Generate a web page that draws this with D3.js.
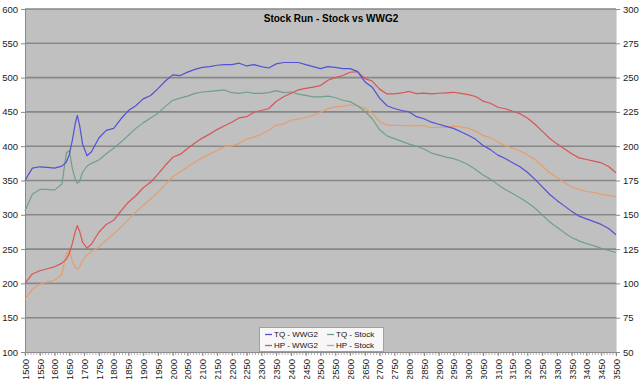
<!DOCTYPE html>
<html>
<head>
<meta charset="utf-8">
<script src="https://cdn.jsdelivr.net/npm/d3@7"></script>
<style>
  html, body { margin: 0; padding: 0; background: #ffffff; }
  svg { display: block; font-family: Arial, "Liberation Sans", sans-serif; }
</style>
</head>
<body>
<svg id="chart" width="640" height="379"></svg>
<script>
// ---- Data ----
const title = "Stock Run - Stock vs WWG2";
const rpm = [1500,1525,1550,1575,1600,1625,1640,1650,1660,1670,1677,1685,1695,1710,1725,1750,1775,1800,1825,1850,1875,1900,1925,1950,1975,2000,2025,2050,2075,2100,2125,2150,2175,2200,2225,2250,2275,2300,2325,2350,2375,2400,2425,2450,2475,2500,2525,2550,2575,2600,2625,2650,2675,2700,2725,2750,2775,2800,2825,2850,2875,2900,2925,2950,2975,3000,3025,3050,3075,3100,3125,3150,3175,3200,3225,3250,3275,3300,3325,3350,3375,3400,3425,3450,3475,3500];
const tqWWG2 = [350,368,370,369,368,371,377,388,408,433,445,430,403,386,392,412,423,426,440,452,459,469,474,484,495,504,503,508,512,515,516,518,519,519,521,517,519,516,514,520,522,522,522,519,516,513,516,515,513,513,509,494,486,470,459,455,452,450,443,440,435,432,429,426,421,416,410,401,395,387,382,376,370,362,352,341,330,321,313,305,298,294,290,286,280,271];
const tqStock = [306,330,337,337,336,345,390,394,368,352,346,349,362,371,375,380,389,397,406,416,426,434,441,448,458,467,470,473,477,479,480,481,482,478,477,479,477,477,478,481,478,479,476,474,472,472,473,471,467,465,459,451,440,424,415,411,407,403,400,396,390,387,384,382,378,373,366,358,352,344,337,331,325,318,310,300,290,282,274,267,262,258,255,251,248,245];
const hpWWG2 = [100.0,106.9,109.2,110.7,112.1,114.8,117.7,121.9,129.0,137.7,142.1,137.9,130.0,125.7,128.7,137.3,143.0,146.0,152.9,159.2,163.9,169.7,173.7,179.7,186.1,191.9,194.0,198.3,202.3,205.9,208.8,212.1,214.9,217.4,220.7,221.5,224.8,226.0,227.5,232.6,236.1,238.6,241.0,242.1,243.1,244.2,248.1,250.0,251.5,253.9,254.4,249.3,247.5,241.6,238.1,238.2,238.8,239.9,238.3,238.7,238.1,238.6,238.9,239.3,238.5,237.6,236.2,232.9,231.3,228.4,227.3,225.5,223.7,220.6,216.2,211.0,205.8,201.7,198.2,194.5,191.5,190.3,189.1,187.9,185.2,180.6];
const hpStock = [88.5,95.8,99.4,101.1,102.3,106.7,121.8,123.8,116.3,111.9,110.5,112.0,116.8,120.8,123.2,126.6,131.5,136.1,141.1,146.5,152.1,157.0,161.6,166.3,172.2,177.8,181.2,184.6,188.5,191.5,194.2,196.9,199.6,200.2,202.1,205.2,206.6,208.9,211.6,215.2,216.2,218.9,219.8,221.1,222.4,224.7,227.4,228.7,229.0,230.2,229.4,227.6,224.1,218.0,215.3,215.2,215.1,214.8,215.2,214.9,213.5,213.7,213.8,214.6,214.1,213.1,210.8,207.9,206.1,203.1,200.5,198.5,196.5,193.8,190.4,185.6,180.8,177.2,173.5,170.3,168.4,167.0,166.3,164.9,164.1,163.3];
const leftTicks = [100,150,200,250,300,350,400,450,500,550,600];
const rightTicks = [50,75,100,125,150,175,200,225,250,275,300];
const xTicks = d3.range(1500, 3501, 50);
const seriesNames = ["TQ - WWG2", "HP - WWG2", "TQ - Stock", "HP - Stock"];
const seriesColors = ["#5252d4", "#d85555", "#70a088", "#e69d6c"];

// ---- Layout ----
const svg = d3.select("#chart");
const L = 25, R = 616, T = 9, B = 352;

const x = d3.scaleLinear().domain([1500, 3500]).range([L, R]);
const yL = d3.scaleLinear().domain([100, 600]).range([B, T]);
const yR = d3.scaleLinear().domain([50, 300]).range([B, T]);

// plot background
svg.append("rect").attr("x", L).attr("y", T).attr("width", R - L).attr("height", B - T)
  .attr("fill", "#c0c0c0");

// gridlines
svg.append("g").selectAll("line").data(leftTicks.filter(d => d > 100)).join("line")
  .attr("x1", L).attr("x2", R)
  .attr("y1", d => yL(d)).attr("y2", d => yL(d))
  .attr("stroke", "#878787").attr("stroke-width", 1.6);

// left axis
const gL = svg.append("g").attr("transform", `translate(${L},0)`)
  .call(d3.axisLeft(yL).tickValues(leftTicks).tickSize(4).tickPadding(3));
gL.select(".domain").attr("stroke", "#8a8a8a");
gL.selectAll(".tick line").attr("stroke", "#8a8a8a");
gL.selectAll("text").attr("font-size", 9.5).attr("fill", "#222").attr("font-family", "Arial, 'Liberation Sans', sans-serif");

// right axis
const gR = svg.append("g").attr("transform", `translate(${R},0)`)
  .call(d3.axisRight(yR).tickValues(rightTicks).tickSize(4).tickPadding(3));
gR.select(".domain").attr("stroke", "#dcdcdc");
gR.selectAll(".tick line").attr("stroke", "#8a8a8a");
gR.selectAll("text").attr("font-size", 9.5).attr("fill", "#222").attr("font-family", "Arial, 'Liberation Sans', sans-serif");

// bottom axis: minor ticks
svg.append("g").selectAll("line").data(d3.range(1500, 3501, 10)).join("line")
  .attr("x1", d => x(d)).attr("x2", d => x(d))
  .attr("y1", B).attr("y2", B + 3)
  .attr("stroke", "#9a9a9a").attr("stroke-width", 0.8);

const gB = svg.append("g").attr("transform", `translate(0,${B})`)
  .call(d3.axisBottom(x).tickValues(xTicks).tickSize(4).tickFormat(d3.format("d")));
gB.select(".domain").attr("stroke", "#8a8a8a");
gB.selectAll(".tick line").attr("stroke", "#8a8a8a");
gB.selectAll("text")
  .attr("font-size", 9.5).attr("fill", "#222")
  .attr("font-family", "Arial, 'Liberation Sans', sans-serif")
  .attr("transform", "rotate(-90)")
  .attr("text-anchor", "end")
  .attr("x", -7).attr("y", 0).attr("dy", "0.35em");

// lines
const series = [
  { vals: tqWWG2, scale: yL },
  { vals: hpWWG2, scale: yR },
  { vals: tqStock, scale: yL },
  { vals: hpStock, scale: yR }
];
const drawOrder = [3, 2, 1, 0];
drawOrder.forEach(i => {
  const s = series[i];
  const line = d3.line().x((d, j) => x(rpm[j])).y(d => s.scale(d)).curve(d3.curveLinear);
  svg.append("path").datum(s.vals)
    .attr("d", line)
    .attr("fill", "none")
    .attr("stroke", seriesColors[i])
    .attr("stroke-width", 1.2)
    .attr("stroke-linejoin", "round");
});

// title
svg.append("text").attr("x", 331).attr("y", 22).attr("text-anchor", "middle")
  .attr("font-size", 10).attr("font-weight", "bold").attr("fill", "#000")
  .text(title);

// legend
const lg = svg.append("g");
lg.append("rect").attr("x", 259.5).attr("y", 327.5).attr("width", 124).attr("height", 24)
  .attr("fill", "#f7f7f7").attr("stroke", "#a0a0a0").attr("stroke-width", 1);
const legPos = [[265, 334.5], [265, 345.5], [327, 334.5], [327, 345.5]];
seriesNames.forEach((n, i) => {
  const [lx, ly] = legPos[i];
  lg.append("line").attr("x1", lx).attr("x2", lx + 7).attr("y1", ly).attr("y2", ly)
    .attr("stroke", seriesColors[i]).attr("stroke-width", 1.3);
  lg.append("text").attr("x", lx + 9).attr("y", ly).attr("dy", "0.35em")
    .attr("font-size", 8).attr("fill", "#111").text(n);
});
</script>
</body>
</html>
